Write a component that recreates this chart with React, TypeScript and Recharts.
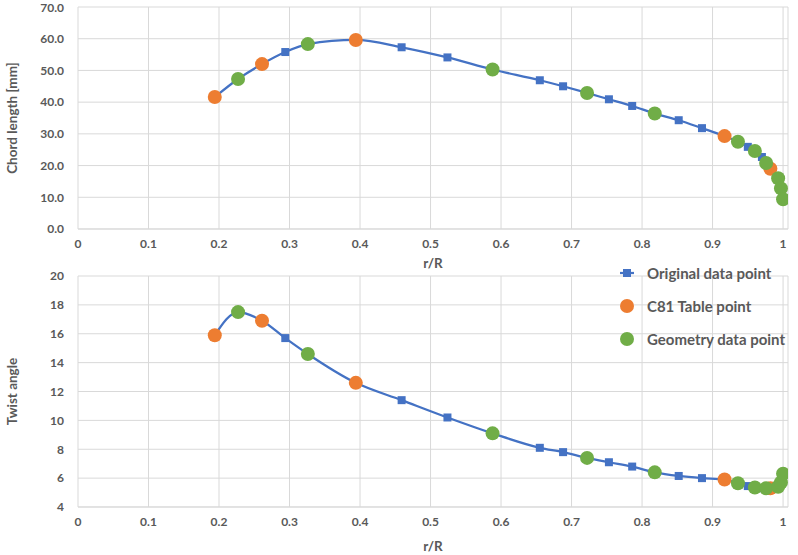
import React from "react";
import { CartesianGrid, ComposedChart, Line, Scatter, XAxis, YAxis } from "recharts";

const BLUE = "#4472C4";
const ORANGE = "#ED7D31";
const GREEN = "#70AD47";
const GRID = "#D9D9D9";
const TEXT = "#595959";
const FONT = "Lato, 'Liberation Sans', sans-serif";

// r/R ticks shared by both charts
const R_TICKS = [0, 0.1, 0.2, 0.3, 0.4, 0.5, 0.6, 0.7, 0.8, 0.9, 1];
const CHORD_TICKS = [0, 10, 20, 30, 40, 50, 60, 70];
const TWIST_TICKS = [4, 6, 8, 10, 12, 14, 16, 18, 20];

// Original data points (blue squares, smoothed line)
const R_ORIG = [0.194, 0.227, 0.261, 0.294, 0.326, 0.394, 0.459, 0.524, 0.588, 0.655, 0.688, 0.722, 0.753, 0.786, 0.818, 0.852, 0.885, 0.917, 0.936, 0.95, 0.96, 0.97, 0.982, 0.993, 0.997, 1.0];
const CHORD_ORIG = [41.6, 47.3, 52.0, 55.8, 58.3, 59.6, 57.3, 54.1, 50.3, 46.9, 45.0, 42.9, 40.9, 38.8, 36.4, 34.3, 31.8, 29.3, 27.5, 25.9, 24.6, 22.7, 19.0, 16.0, 12.8, 9.4];
const TWIST_ORIG = [15.9, 17.5, 16.9, 15.7, 14.6, 12.6, 11.4, 10.2, 9.1, 8.1, 7.8, 7.4, 7.1, 6.8, 6.4, 6.15, 6.0, 5.9, 5.65, 5.45, 5.35, 5.3, 5.3, 5.4, 5.7, 6.3];

// C81 table points (orange)
const R_C81 = [0.194, 0.261, 0.394, 0.917, 0.982];
const CHORD_C81 = [41.6, 52.0, 59.6, 29.3, 19.0];
const TWIST_C81 = [15.9, 16.9, 12.6, 5.9, 5.3];

// Geometry data points (green)
const R_GEOM = [0.227, 0.326, 0.588, 0.722, 0.818, 0.936, 0.96, 0.976, 0.993, 0.997, 1.0];
const CHORD_GEOM = [47.3, 58.3, 50.3, 42.9, 36.4, 27.5, 24.6, 20.8, 16.0, 12.8, 9.4];
const TWIST_GEOM = [17.5, 14.6, 9.1, 7.4, 6.4, 5.65, 5.35, 5.3, 5.4, 5.7, 6.3];

const LEGEND_ITEMS = [
  { label: "Original data point", kind: "square", color: BLUE },
  { label: "C81 Table point", kind: "circle", color: ORANGE },
  { label: "Geometry data point", kind: "circle", color: GREEN },
];

const zip = (xs: number[], ys: number[]) => xs.map((x, i) => ({ x, y: ys[i] }));

const tickStyle = { fill: TEXT, fontSize: 12, fontFamily: FONT, fontWeight: 700 };
const titleStyle = { fill: TEXT, fontSize: 13.5, fontFamily: FONT, fontWeight: 700 };

function renderSquare(p: any) {
  const { cx, cy, index } = p;
  if (cx == null || cy == null) return <g key={`sq-${index}`} />;
  return <rect key={`sq-${index}`} x={cx - 4} y={cy - 4} width={8} height={8} fill={BLUE} />;
}

const circleShape = (color: string) => (p: any) => <circle cx={p.cx} cy={p.cy} r={7} fill={color} />;

// Shared legend, placed between the two charts like the original figure.
// (A recharts <Legend> re-render pushed the line above the circles, so it sits outside.)
function LegendBox() {
  return (
    <div
      style={{
        position: "absolute",
        left: 612,
        top: 256,
        width: 190,
        fontFamily: FONT,
        fontWeight: 700,
        fontSize: 15,
        color: TEXT,
      }}
    >
      {LEGEND_ITEMS.map((it) => (
        <div key={it.label} style={{ display: "flex", alignItems: "center", height: 33 }}>
          <svg width={30} height={16}>
            {it.kind === "square" ? (
              <>
                <line x1={8} x2={22} y1={8} y2={8} stroke={it.color} strokeWidth={2.25} />
                <rect x={11} y={4} width={8} height={8} fill={it.color} />
              </>
            ) : (
              <circle cx={15} cy={8} r={7} fill={it.color} />
            )}
          </svg>
          <span style={{ marginLeft: 5 }}>{it.label}</span>
        </div>
      ))}
    </div>
  );
}

function BladeChart(props: {
  top: number;
  height: number;
  marginTop: number;
  xHeight: number;
  labelOffset: number;
  yTitle: string;
  yDomain: [number, number];
  yTicks: number[];
  yFormat: (v: number) => string;
  orig: { x: number; y: number }[];
  c81: { x: number; y: number }[];
  geom: { x: number; y: number }[];
}) {
  return (
    <div style={{ position: "absolute", left: 0, top: props.top }}>
      <ComposedChart width={798} height={props.height} margin={{ top: props.marginTop, right: 10, bottom: 0, left: 0 }}>
        <CartesianGrid stroke={GRID} strokeWidth={1} />
        <XAxis
          type="number"
          dataKey="x"
          domain={[0, 1.007]}
          ticks={R_TICKS}
          allowDataOverflow
          height={props.xHeight}
          tickSize={0}
          tickMargin={10}
          axisLine={{ stroke: GRID }}
          tick={tickStyle}
          label={{ value: "r/R", position: "insideBottom", offset: props.labelOffset, ...titleStyle }}
        />
        <YAxis
          type="number"
          dataKey="y"
          domain={props.yDomain}
          ticks={props.yTicks}
          width={78}
          tickSize={0}
          tickMargin={14}
          axisLine={false}
          tick={tickStyle}
          tickFormatter={props.yFormat}
          label={{ value: props.yTitle, angle: -90, position: "insideLeft", offset: 12, style: { textAnchor: "middle" }, ...titleStyle }}
        />
        <Line
          data={props.orig}
          dataKey="y"
          type="monotone"
          stroke={BLUE}
          strokeWidth={2.25}
          dot={renderSquare}
          activeDot={false}
          isAnimationActive={false}
        />
        <Scatter data={props.c81} dataKey="y" fill={ORANGE} shape={circleShape(ORANGE)} isAnimationActive={false} />
        <Scatter data={props.geom} dataKey="y" fill={GREEN} shape={circleShape(GREEN)} isAnimationActive={false} />
      </ComposedChart>
    </div>
  );
}

export default function App() {
  return (
    <div style={{ position: "absolute", left: 0, top: 0, width: 798, height: 555, background: "#fff" }}>
      <BladeChart
        top={0}
        height={275}
        marginTop={7}
        xHeight={46}
        labelOffset={7}
        yTitle="Chord length [mm]"
        yDomain={[0, 70]}
        yTicks={CHORD_TICKS}
        yFormat={(v) => v.toFixed(1)}
        orig={zip(R_ORIG, CHORD_ORIG)}
        c81={zip(R_C81, CHORD_C81)}
        geom={zip(R_GEOM, CHORD_GEOM)}
      />
      <BladeChart
        top={262}
        height={293}
        marginTop={14}
        xHeight={48}
        labelOffset={4}
        yTitle="Twist angle"
        yDomain={[4, 20]}
        yTicks={TWIST_TICKS}
        yFormat={(v) => String(v)}
        orig={zip(R_ORIG, TWIST_ORIG)}
        c81={zip(R_C81, TWIST_C81)}
        geom={zip(R_GEOM, TWIST_GEOM)}
      />
      <LegendBox />
    </div>
  );
}
